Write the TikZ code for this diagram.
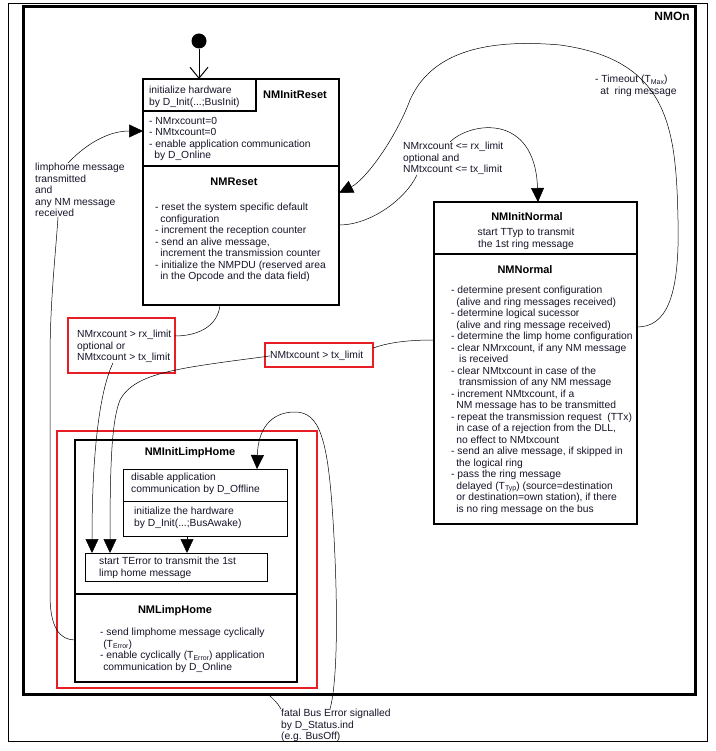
\documentclass[tikz,border=0pt]{standalone}
\usepackage{fontspec}
\setmainfont{Liberation Sans}
\usetikzlibrary{arrows.meta}
\definecolor{redmark}{RGB}{232,30,38}
\definecolor{ink}{RGB}{20,20,40}
\newcommand{\sm}[1]{\raisebox{-0.3ex}{\fontsize{7}{7}\selectfont #1}}
\newcommand{\ind}{\hspace*{0.5em}}

\begin{document}
\begin{tikzpicture}[x=1pt, y=-1pt,
    state/.style={draw, line width=1.8pt, inner sep=0pt, outer sep=0pt, anchor=north west},
    inbox/.style={draw, line width=0.8pt, inner sep=0pt, outer sep=0pt, anchor=north west},
    txt/.style={align=left, inner sep=0pt, anchor=north west, text=ink, font=\fontsize{10.3}{11.5}\selectfont},
    ctxt/.style={align=center, inner sep=0pt, text=ink, font=\fontsize{10.3}{11.5}\selectfont},
    title/.style={inner sep=0pt, font=\fontsize{11}{13}\selectfont\bfseries},
    trans/.style={line width=0.5pt, -{Triangle[length=14pt,width=13pt]}},
    link/.style={line width=0.5pt},
    redbox/.style={draw=redmark, line width=2.6pt}]
    \useasboundingbox (0,0) rectangle (715,751);

    % Frames
    \draw[line width=0.7pt] (8,3) rectangle (707,741);
    \node[state, line width=3pt, minimum width=672pt, minimum height=687pt] (nmon) at (23,7) {};
    \node[title, font=\fontsize{12}{14}\selectfont\bfseries] (nmontitle) at (672,16) {NMOn};

    % NMInitReset / NMReset
    \node[state, minimum width=196pt, minimum height=87pt] (initreset) at (143,79) {};
    \node[state, minimum width=196pt, minimum height=139pt] (reset) at (143,166) {};
    \node[state, minimum width=113pt, minimum height=32pt] (hwbox) at (143,79) {};
    \node[txt] (hwtext) at (149,86) {initialize hardware\\by D\_Init(...;BusInit)};
    \node[title] (initresettitle) at (295,95) {NMInitReset};
    \node[txt] (initresetlist) at (149,117) {- NMrxcount=0\\- NMtxcount=0\\- enable application communication\\\ind by D\_Online};
    \node[title] (resettitle) at (234,182) {NMReset};
    \node[txt] (resetlist) at (155,203) {- reset the system specific default\\\ind configuration\\- increment the reception counter\\- send an alive message,\\\ind increment the transmission counter\\- initialize the NMPDU (reserved area\\\ind in the Opcode and the data field)};

    % NMInitNormal / NMNormal
    \node[state, minimum width=203pt, minimum height=52pt] (initnormal) at (434,202) {};
    \node[state, minimum width=203pt, minimum height=270pt] (normal) at (434,254) {};
    \node[title] (initnormaltitle) at (527,217) {NMInitNormal};
    \node[ctxt] (initnormaltext) at (526,239) {start TTyp to transmit\\the 1st ring message};
    \node[title] (normaltitle) at (525,270) {NMNormal};
    \node[txt] (normallist) at (451,286) {- determine present configuration\\\ind(alive and ring messages received)\\- determine logical sucessor\\\ind(alive and ring message received)\\- determine the limp home configuration\\- clear NMrxcount, if any NM message\\\ind\ is received\\- clear NMtxcount in case of the\\\ind\ transmission of any NM message\\- increment NMtxcount, if a\\\ind NM message has to be transmitted\\- repeat the transmission request\ \ (TTx)\\\ind in case of a rejection from the DLL,\\\ind no effect to NMtxcount\\- send an alive message, if skipped in\\\ind the logical ring\\- pass the ring message\\\ind delayed (T\sm{Typ}) (source=destination\\\ind or destination=own station), if there\\\ind is no ring message on the bus};

    % NMInitLimpHome / NMLimpHome
    \node[state, minimum width=222pt, minimum height=154pt] (initlimp) at (75,440) {};
    \node[state, minimum width=222pt, minimum height=88pt] (limphome) at (75,594) {};
    \node[title] (initlimptitle) at (190,453) {NMInitLimpHome};
    \node[inbox, minimum width=164pt, minimum height=32pt] (offline) at (123,469) {};
    \node[inbox, minimum width=164pt, minimum height=35pt] (hwinit) at (123,501) {};
    \node[inbox, minimum width=182pt, minimum height=28pt] (terr) at (85,553) {};
    \node[txt] (offlinetext) at (131,473) {disable application\\communication by D\_Offline};
    \node[txt] (hwinittext) at (134,507) {initialize the hardware\\by D\_Init(...;BusAwake)};
    \node[txt] (terrtext) at (99,557) {start TError to transmit the 1st\\limp home message};
    \node[title] (limphometitle) at (175,611) {NMLimpHome};
    \node[txt] (limphomelist) at (100,628) {- send limphome message cyclically\\\hspace*{0.3em}(T\sm{Error})\\- enable cyclically (T\sm{Error}) application\\\hspace*{0.3em}communication by D\_Online};

    % Initial state
    \node[circle, fill, minimum size=15pt, inner sep=0pt] (start) at (199,41) {};
    \draw[line width=0.8pt, -{Straight Barb[length=11pt,width=18pt,line width=1pt]}] (start) -- (start |- initreset.north);

    % Transition labels
    \node[txt] (lbllh) at (35,163) {limphome message\\transmitted\\and\\any NM message\\received};
    \node[txt] (lbltimeout) at (595,75) {- Timeout (T\sm{Max})\\\ind at\ \ ring message};
    \node[txt] (lblok) at (403,142) {NMrxcount <= rx\_limit\\optional and\\NMtxcount <= tx\_limit};
    \node[txt] (lbl1) at (77,330) {NMrxcount > rx\_limit\\optional or\\NMtxcount > tx\_limit};
    \node[txt] (lbl2) at (270,351) {NMtxcount > tx\_limit};
    \node[txt] (lblfatal) at (281,709) {fatal Bus Error signalled\\by D\_Status.ind\\(e.g. BusOff)};

    % Red marks
    \draw[redbox] (68,318) rectangle (175,373);
    \draw[redbox] (265,343) rectangle (373,367);
    \draw[redbox] (57,431) rectangle (317,688);

    % Limp home -> reset
    \draw[link] (limphome.west |- 0,640) .. controls (60,640) and (50,628) .. (50,595) -- (50,360) .. controls (50,300) and (56,250) .. ([xshift=23pt]lbllh.south west);
    \draw[trans] ([xshift=33pt]lbllh.north west) .. controls (90,140) and (112,131) .. (initreset.west |- 0,131);

    % Timeout
    \draw[trans] (normal.east |- 0,327) .. controls (665,327) and (680,300) .. (678,220) .. controls (676,130) and (670,60) .. (560,45) .. controls (480,38) and (430,55) .. (410,100) .. controls (395,140) and (365,180) .. (reset.east |- 0,193);

    % Reset -> normal
    \draw[link] (reset.east |- 0,225) .. controls (370,225) and (405,200) .. ([xshift=14pt]lblok.south west);
    \draw[trans] ([xshift=47pt]lblok.north west) .. controls (470,122) and (535,112) .. (initnormal.north -| 538,0);

    % Reset -> limp home
    \draw[link] (reset.south -| 220,0) .. controls (218,325) and (200,336) .. ([shift={(3,6)}]lbl1.north east);
    \draw[trans] ([xshift=36pt]lbl1.south west) .. controls (100,390) and (92,450) .. (terr.north -| 92,0);

    % Normal -> limp home
    \draw[link] (normal.west |- 0,340) .. controls (410,340) and (390,342) .. ([shift={(10,-8)}]lbl2.east);
    \draw[trans] (lbl2.west) .. controls (180,368) and (135,372) .. (120,400) .. controls (112,420) and (110,460) .. (terr.north -| 110,0);

    % Fatal bus error
    \draw[link] (lblfatal.north west) .. controls (278,703) and (272,698) .. (nmon.south -| 268,0);
    \draw[trans] ([xshift=49pt]lblfatal.north west) .. controls (338,680) and (338,600) .. (333,520) .. controls (328,440) and (320,412) .. (295,412) .. controls (270,412) and (258,430) .. (offline.north -| 257,0);

    % Inside limp home
    \draw[trans] (hwinit.south -| 187,0) -- (terr.north -| 187,0);
\end{tikzpicture}
\end{document}
